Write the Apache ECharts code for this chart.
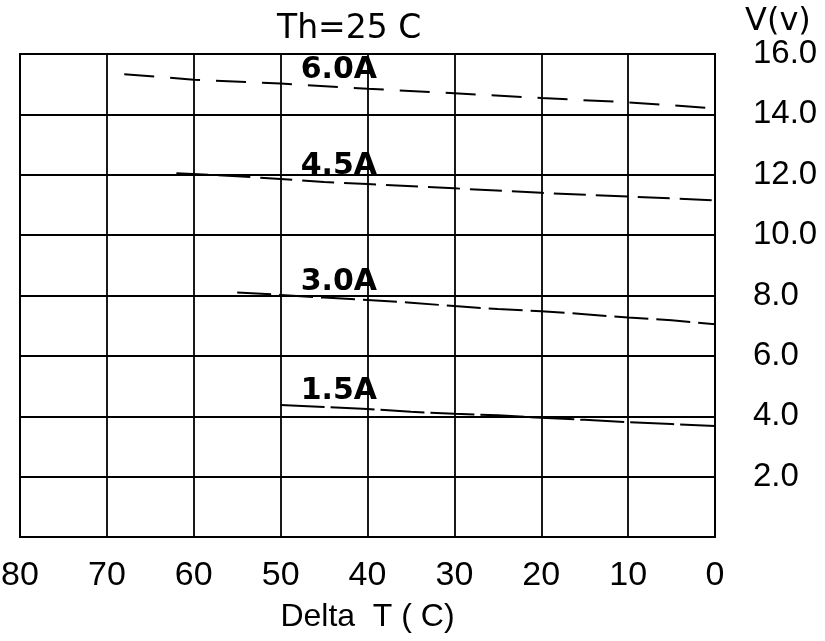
<!DOCTYPE html>
<html><head><meta charset="utf-8">
<script src="https://cdn.jsdelivr.net/npm/echarts@6/dist/echarts.min.js"></script>
<style>html,body{margin:0;padding:0;background:#fff}#c{width:825px;height:641px}</style>
</head><body><div id="c"></div>
<script>
// Data: [Delta T (C), V (v)]
const seriesNames = ['6.0A', '4.5A', '3.0A', '1.5A'];
const curve60 = [[68,15.33],[60,15.15],[50,15.02],[40,14.85],[30,14.7],[20,14.54],[10,14.4],[0,14.2]];
const curve45 = [[62,12.05],[55,11.95],[50,11.86],[45,11.76],[40,11.69],[30,11.55],[20,11.4],[10,11.28],[0,11.15]];
const curve30 = [[55,8.1],[50,8.02],[45,7.93],[40,7.85],[35,7.76],[30,7.65],[25,7.55],[20,7.48],[15,7.38],[10,7.27],[5,7.18],[0,7.05]];
const curve15 = [[50,4.37],[45,4.31],[40,4.24],[35,4.15],[30,4.08],[25,4.03],[20,3.95],[15,3.88],[10,3.8],[5,3.74],[0,3.68]];
const xTicks = [80,70,60,50,40,30,20,10,0];
const yTicks = [2,4,6,8,10,12,14,16];
const curves = [curve60, curve45, curve30, curve15];

const FONT = 'Liberation Sans';
const dashStyles = [[30,16],[32,10],[34,8],[44,6]];
const labelAt = 43.3;
function valueAt(data, x){
  for (let i=0;i<data.length-1;i++){
    const a=data[i], b=data[i+1];
    if (x<=a[0] && x>=b[0]) { const t=(a[0]-x)/(a[0]-b[0]); return a[1]+t*(b[1]-a[1]); }
  }
  return data[0][1];
}

const chart = echarts.init(document.getElementById('c'), null, {renderer:'canvas'});
chart.setOption({
  animation:false,
  backgroundColor:'#fff',
  title:{text:'Th=25 C', left:272, top:8, textStyle:{fontFamily:'DejaVu Sans',fontSize:33,fontWeight:'normal',color:'#000'}},
  grid:{left:20, right:110, top:54, bottom:104, show:true, borderColor:'#000', borderWidth:2,
    containLabel:false, outerBoundsMode:'none'},
  xAxis:{type:'value', min:0, max:80, interval:10, inverse:true,
    axisLine:{show:true, lineStyle:{color:'#000', width:2}},
    axisTick:{show:false},
    splitLine:{show:true, lineStyle:{color:'#000', width:1.8}},
    axisLabel:{fontFamily:FONT, fontSize:34, color:'#000', margin:22},
    name:'Delta  T ( C)', nameLocation:'middle', nameGap:64,
    nameTextStyle:{fontFamily:FONT, fontSize:32, color:'#000'}
  },
  yAxis:{type:'value', position:'right', min:0, max:16, interval:2,
    axisLine:{show:true, lineStyle:{color:'#000', width:2}},
    axisTick:{show:false},
    splitLine:{show:true, lineStyle:{color:'#000', width:1.8}},
    axisLabel:{fontFamily:FONT, fontSize:33, color:'#000', margin:38,
      formatter:function(v){ return yTicks.indexOf(v)>=0 ? v.toFixed(1) : ''; }},
    name:'V(v)', nameLocation:'end', nameGap:14,
    nameTextStyle:{fontFamily:'DejaVu Sans', fontSize:32, color:'#000', align:'left', padding:[0,0,0,30]}
  },
  series: curves.map(function(d,i){
    return {
      name: seriesNames[i], type:'line', data:d, symbol:'none', smooth:false,
      lineStyle:{color:'#000', width:2, type:dashStyles[i]},
      markPoint:{symbol:'circle', symbolSize:1, itemStyle:{color:'rgba(0,0,0,0)'},
        data:[{coord:[labelAt, valueAt(d, labelAt)]}],
        label:{show:true, position:'top', distance:1, formatter:seriesNames[i],
          fontFamily:'DejaVu Sans', fontWeight:'bold', fontSize:30, color:'#000'}
      }
    };
  })
});
</script></body></html>
